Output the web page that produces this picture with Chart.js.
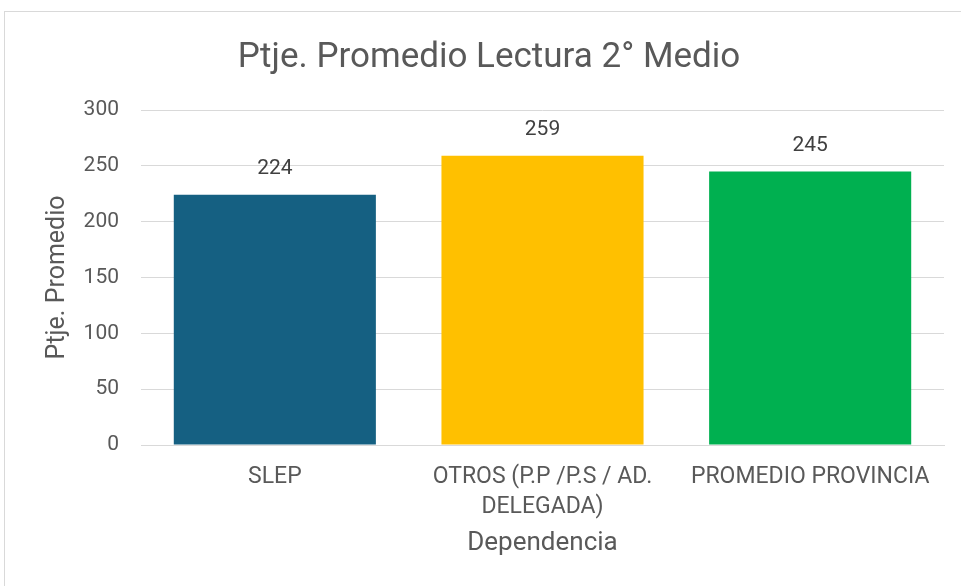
<!DOCTYPE html>
<html>
<head>
<meta charset="utf-8">
<script src="https://cdn.jsdelivr.net/npm/chart.js@4"></script>
<style>
  html, body { margin: 0; padding: 0; background: #fff; }
  #wrap { position: relative; width: 961px; height: 586px; overflow: hidden; }
  #frame { position: absolute; left: 4px; top: 11px; width: 980px; height: 600px; border: 1px solid #d9d9d9; }
  canvas { position: absolute; left: 0; top: 0; }
</style>
</head>
<body>
<div id="wrap">
  <div id="frame"></div>
  <canvas id="chart" width="961" height="586"></canvas>
</div>
<script>
// chart data
const categories = ["SLEP", ["OTROS (P.P /P.S / AD.", "DELEGADA)"], "PROMEDIO PROVINCIA"];
const scores = [224, 259, 245];
const barColors = ["#156082", "#FFC000", "#00B050"];
const yTicks = [0, 50, 100, 150, 200, 250, 300];

const textColor = "#595959";
const fontFamily = "Roboto, 'Liberation Sans', sans-serif";

// draws the value above each bar
const valueLabels = {
    id: "valueLabels",
    afterDatasetsDraw(chart) {
        const ctx = chart.ctx;
        const meta = chart.getDatasetMeta(0);
        ctx.save();
        ctx.fillStyle = "#404040";
        ctx.font = "21px " + fontFamily;
        ctx.textAlign = "center";
        ctx.textBaseline = "middle";
        meta.data.forEach((bar, i) => {
            ctx.fillText(String(scores[i]), bar.x, bar.y - 26);
        });
        ctx.restore();
    }
};

new Chart(document.getElementById("chart").getContext("2d"), {
    type: "bar",
    data: {
        labels: categories,
        datasets: [{
            data: scores,
            backgroundColor: barColors,
            categoryPercentage: 0.755,
            barPercentage: 1
        }]
    },
    options: {
        responsive: false,
        animation: false,
        layout: { padding: { left: 17, right: 0, top: 0, bottom: 0 } },
        plugins: {
            legend: { display: false },
            tooltip: { enabled: false },
            title: {
                display: true,
                text: "Ptje. Promedio Lectura 2° Medio",
                color: textColor,
                font: { family: fontFamily, size: 35, weight: "normal", lineHeight: 1.2 },
                padding: { top: 37, bottom: 31 }
            }
        },
        scales: {
            x: {
                grid: { display: false, drawTicks: false },
                border: { color: "#d9d9d9", width: 1 },
                ticks: {
                    color: textColor,
                    font: { family: fontFamily, size: 23, lineHeight: 1.27 },
                    padding: 18,
                    maxRotation: 0
                },
                afterFit(scale) {
                    scale.height = 141;
                },
                title: {
                    display: true,
                    text: "Dependencia",
                    color: textColor,
                    font: { family: fontFamily, size: 26, lineHeight: 1.2 },
                    padding: { top: 0, bottom: 27 }
                }
            },
            y: {
                min: 0,
                max: 300,
                afterBuildTicks(scale) {
                    scale.ticks = yTicks.map(v => ({ value: v }));
                },
                afterFit(scale) {
                    scale.width = 124;
                },
                grid: { color: "#d9d9d9", drawTicks: false },
                border: { display: false },
                ticks: {
                    color: textColor,
                    font: { family: fontFamily, size: 21 },
                    padding: 22
                },
                title: {
                    display: true,
                    text: "Ptje. Promedio",
                    color: textColor,
                    font: { family: fontFamily, size: 25, lineHeight: 1.2 },
                    padding: { top: 26, bottom: 0 }
                }
            },
            // empty right-hand spacer so the plot ends before the canvas edge
            yRight: {
                position: "right",
                display: true,
                grid: { display: false, drawTicks: false },
                border: { display: false },
                ticks: { display: false },
                afterFit(scale) {
                    scale.width = 17;
                }
            }
        }
    },
    plugins: [valueLabels]
});
</script>
</body>
</html>
